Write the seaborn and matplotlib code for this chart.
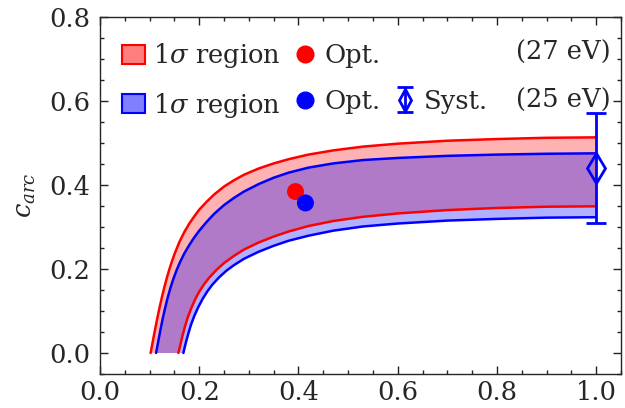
import matplotlib
matplotlib.use("Agg")
import numpy as np
import pandas as pd
import seaborn as sns
import matplotlib.pyplot as plt
from matplotlib.patches import Patch
from matplotlib.lines import Line2D
from matplotlib.ticker import MultipleLocator

# ---- data ----
# 27 eV 1-sigma band (red)
ru_x = [0.102, 0.106, 0.110, 0.115, 0.120, 0.125, 0.130, 0.135, 0.140, 0.145, 0.150, 0.160, 0.170, 0.180, 0.190, 0.200,
        0.215, 0.230, 0.250, 0.270, 0.290, 0.320, 0.350, 0.380, 0.420, 0.470, 0.530, 0.600, 0.700, 0.800, 0.900, 1.000]
ru_y = [0.000, 0.025, 0.050, 0.080, 0.108, 0.134, 0.158, 0.180, 0.200, 0.218, 0.235, 0.264, 0.288, 0.308, 0.325, 0.341,
        0.360, 0.377, 0.396, 0.411, 0.424, 0.439, 0.451, 0.461, 0.472, 0.482, 0.491, 0.498, 0.505, 0.509, 0.512, 0.513]
rl_x = [0.158, 0.162, 0.166, 0.171, 0.177, 0.184, 0.192, 0.200, 0.210, 0.220, 0.235, 0.250, 0.270, 0.290, 0.320,
        0.350, 0.380, 0.420, 0.470, 0.530, 0.600, 0.700, 0.800, 0.900, 1.000]
rl_y = [0.000, 0.020, 0.040, 0.062, 0.085, 0.107, 0.128, 0.146, 0.164, 0.179, 0.198, 0.214, 0.231, 0.246, 0.263,
        0.277, 0.289, 0.302, 0.314, 0.324, 0.332, 0.340, 0.345, 0.348, 0.349]
# 25 eV 1-sigma band (blue)
bu_x = [0.113, 0.117, 0.121, 0.126, 0.131, 0.136, 0.142, 0.148, 0.155, 0.162, 0.170, 0.180, 0.190, 0.200, 0.215,
        0.230, 0.250, 0.270, 0.290, 0.320, 0.350, 0.380, 0.420, 0.470, 0.530, 0.600, 0.700, 0.800, 0.900, 1.000]
bu_y = [0.000, 0.025, 0.050, 0.080, 0.106, 0.130, 0.155, 0.177, 0.199, 0.218, 0.237, 0.257, 0.275, 0.291, 0.312,
        0.331, 0.352, 0.369, 0.384, 0.402, 0.417, 0.429, 0.441, 0.451, 0.459, 0.464, 0.469, 0.472, 0.474, 0.475]
bl_x = [0.168, 0.172, 0.177, 0.183, 0.190, 0.198, 0.207, 0.216, 0.226, 0.240, 0.255, 0.270, 0.290, 0.320, 0.350,
        0.380, 0.420, 0.470, 0.530, 0.600, 0.700, 0.800, 0.900, 1.000]
bl_y = [0.000, 0.020, 0.042, 0.066, 0.088, 0.109, 0.129, 0.146, 0.162, 0.180, 0.196, 0.209, 0.224, 0.241, 0.255,
        0.267, 0.279, 0.291, 0.301, 0.308, 0.315, 0.319, 0.322, 0.323]
# optimum points
opt27 = (0.394, 0.384)
opt25 = (0.414, 0.357)
# systematic estimate (25 eV)
syst_x = [1.0]
syst_y = [0.44]
syst_err_lo = [0.13]
syst_err_hi = [0.13]

FS = 18.5
sns.set_style("ticks")
plt.rcParams.update({
    "font.family": "DejaVu Serif",
    "mathtext.fontset": "dejavuserif",
    "font.size": FS,
    "axes.linewidth": 1.0,
})

fig = plt.figure(figsize=(6.25, 4.08), dpi=100)
ax = fig.add_axes([0.16, 0.0833, 0.8336, 0.8757])

# bands
ax.fill(np.r_[ru_x, rl_x[::-1]], np.r_[ru_y, rl_y[::-1]], color="red", alpha=0.3, lw=0, zorder=1)
ax.fill(np.r_[bu_x, bl_x[::-1]], np.r_[bu_y, bl_y[::-1]], color="blue", alpha=0.31, lw=0, zorder=1)

curves = pd.concat([
    pd.DataFrame({"x": ru_x, "y": ru_y, "c": "ru"}),
    pd.DataFrame({"x": rl_x, "y": rl_y, "c": "rl"}),
    pd.DataFrame({"x": bu_x, "y": bu_y, "c": "bu"}),
    pd.DataFrame({"x": bl_x, "y": bl_y, "c": "bl"}),
])
sns.lineplot(data=curves, x="x", y="y", hue="c",
             palette={"ru": "red", "rl": "red", "bu": "blue", "bl": "blue"},
             estimator=None, sort=False, legend=False, lw=1.8, ax=ax, zorder=3)

sns.scatterplot(x=[opt27[0]], y=[opt27[1]], color="red", s=150, edgecolor="none", zorder=5, ax=ax)
sns.scatterplot(x=[opt25[0]], y=[opt25[1]], color="blue", s=150, edgecolor="none", zorder=6, ax=ax)

eb = ax.errorbar(syst_x, syst_y, yerr=[syst_err_lo, syst_err_hi], fmt="d", color="blue",
                 mfc="none", ms=15, mew=2, capsize=7, capthick=2.5, elinewidth=2, zorder=7)

ax.set_xlim(0, 1.05)
ax.set_ylim(-0.05, 0.8)
ax.xaxis.set_major_locator(MultipleLocator(0.2))
ax.yaxis.set_major_locator(MultipleLocator(0.2))
ax.xaxis.set_minor_locator(MultipleLocator(0.05))
ax.yaxis.set_minor_locator(MultipleLocator(0.05))
ax.tick_params(which="both", direction="in", top=True, right=True, width=1, color="#222222")
ax.tick_params(which="major", length=6, labelsize=FS)
ax.tick_params(which="minor", length=3)
ax.tick_params(axis="y", pad=7)
ax.tick_params(axis="x", pad=4)
ax.set_xlabel("")
ax.set_ylabel(r"$c_{arc}$", fontsize=FS, labelpad=8)

# legend proxy for the systematic errorbar (drawn smaller, as in the reference legend)
eb_proxy = ax.errorbar([np.nan], [np.nan], yerr=[[0.1], [0.1]], fmt="d", color="blue",
                       mfc="none", ms=11, mew=2, capsize=6, capthick=2.5, elinewidth=2)

invis = Line2D([], [], linestyle="none", marker=None)
handles = [
    Patch(facecolor=(1, 0, 0, 0.5), edgecolor="red", lw=1.5),
    Patch(facecolor=(0, 0, 1, 0.5), edgecolor="blue", lw=1.5),
    Line2D([], [], linestyle="none", marker="o", color="red", ms=12),
    Line2D([], [], linestyle="none", marker="o", color="blue", ms=12),
    invis,
    eb_proxy,
]
labels = [r"1$\sigma$ region", r"1$\sigma$ region", "Opt.", "Opt.", "", "Syst."]
ax.legend(handles, labels, ncol=3, loc="upper left", frameon=False, fontsize=FS,
          handlelength=0.9, handleheight=0.75, handletextpad=0.3, columnspacing=0.5,
          labelspacing=0.8, borderaxespad=0.3, bbox_to_anchor=(0.008, 0.982))

ax.text(0.981, 0.899, "(27 eV)", transform=ax.transAxes, ha="right", va="center", fontsize=FS)
ax.text(0.981, 0.767, "(25 eV)", transform=ax.transAxes, ha="right", va="center", fontsize=FS)

fig.savefig("out.png", dpi=100)
